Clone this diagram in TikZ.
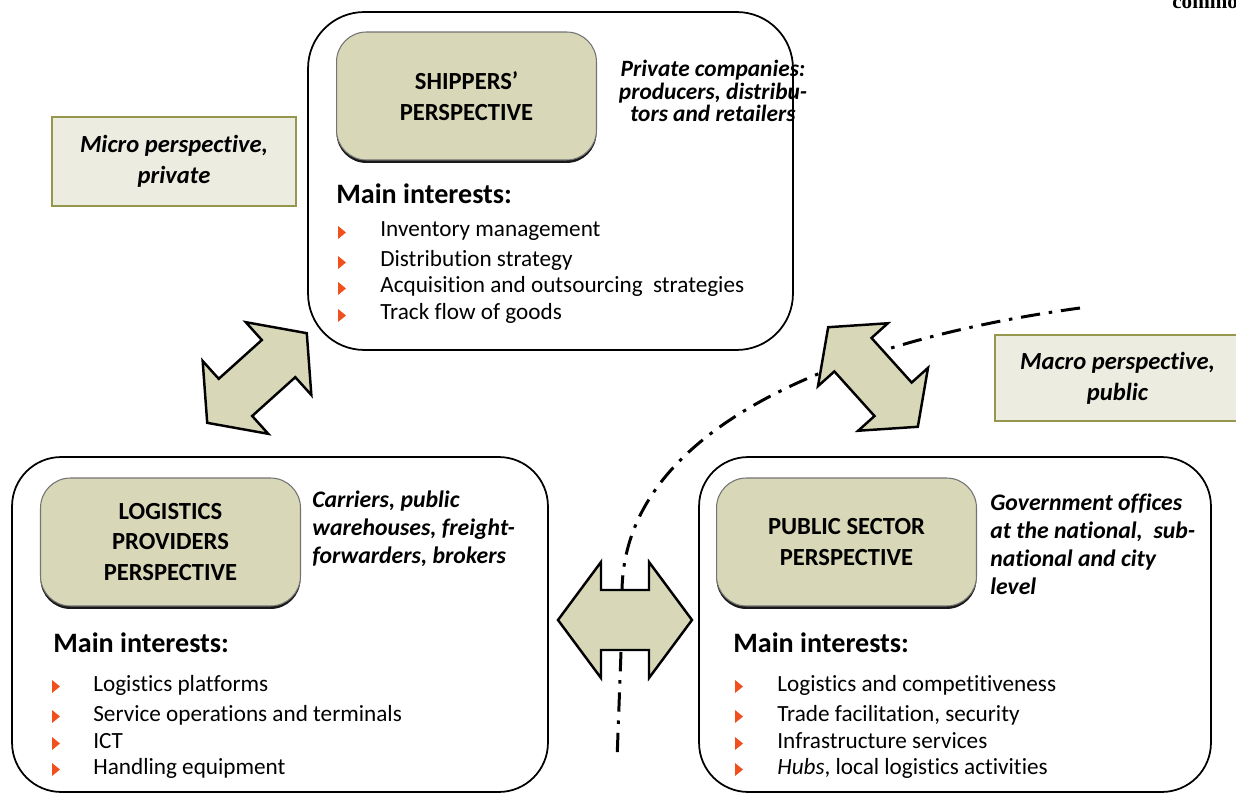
\documentclass[tikz,border=0pt]{standalone}
\usepackage{fontspec}
\setmainfont{Carlito}[Ligatures={NoCommon}]
\newfontfamily\capfont{Liberation Serif}
\usetikzlibrary{shadows}
\definecolor{tanfill}{RGB}{216,215,184}
\definecolor{notefill}{RGB}{236,236,225}
\definecolor{notedraw}{RGB}{150,150,78}
\definecolor{bulletred}{RGB}{240,80,30}
\begin{document}
\begin{tikzpicture}[x=0.02cm, y=-0.02cm,
    bigbox/.style={draw, line width=1pt, minimum height=6.7cm},
    persp/.style={draw=black!55, fill=tanfill, rounded corners=17pt, line width=0.6pt,
        minimum width=5.2cm, minimum height=2.56cm, align=center,
        drop shadow={shadow xshift=0pt, shadow yshift=-1.7pt, fill=black, opacity=0.9},
        font=\fontsize{14}{17.6}\selectfont\bfseries},
    desc/.style={inner sep=0pt, font=\fontsize{13.5}{15.9}\selectfont\bfseries\itshape},
    note/.style={draw=notedraw, fill=notefill, line width=1pt, align=center,
        font=\fontsize{14}{17.8}\selectfont\bfseries\itshape},
    mainint/.style={anchor=base west, inner sep=0pt, font=\fontsize{16}{18}\selectfont\bfseries},
    item/.style={anchor=base west, inner sep=0pt, font=\fontsize{13.2}{16}\selectfont},
    dblarrow/.style={draw=black, line width=1.4pt, fill=tanfill, line join=miter},
    border/.style={line width=1.7pt, dash pattern=on 11pt off 5pt on 2pt off 5pt}]
    \useasboundingbox (0,0) rectangle (1236,793);

    % Caption fragment at the top edge
    \node[anchor=base west, inner sep=0pt, font=\capfont\fontsize{12}{14}\selectfont\bfseries] (cap) at (1172,9) {common};

    % Micro / macro boundary
    \draw[border] (1080,308) .. controls (860,338) and (625,420) .. (622,590);
    \draw[border] (621,652) -- (617,760);

    % Shippers' perspective
    \node[bigbox, rounded corners=32pt, minimum width=9.7cm, minimum height=6.76cm] (shipbox) at (550.5,181) {};
    \node[persp] (shippers) at (466.5,96) {SHIPPERS'\\PERSPECTIVE};
    \node[desc, align=center, font=\fontsize{13.3}{12.6}\selectfont\bfseries\itshape] (shipdesc) at (713,91)
        {Private companies:\\producers, distribu-\\tors and retailers};
    \node[mainint] (shipmain) at (336,204) {Main interests:};
    \foreach \y/\t [count=\i] in {237/Inventory management, 267/Distribution strategy,
        293/{Acquisition and outsourcing\ \ strategies}, 320/Track flow of goods} {
        \fill[bulletred] (338,\y-11) -- (346,\y-4.5) -- (338,\y+2) -- cycle;
        \node[item] (shipitem\i) at (380,\y) {\t};
    }

    % Logistics providers perspective
    \node[bigbox, rounded corners=28pt, minimum width=10.72cm] (logbox) at (280,624.5) {};
    \node[persp] (logistics) at (170.5,542) {LOGISTICS\\PROVIDERS\\PERSPECTIVE};
    \node[desc, anchor=west, align=left] (logdesc) at (312,529)
        {Carriers, public\\warehouses, freight-\\forwarders, brokers};
    \node[mainint] (logmain) at (53,652) {Main interests:};
    \foreach \y/\t [count=\i] in {691/Logistics platforms, 721/Service operations and terminals,
        748/ICT, 774/Handling equipment} {
        \fill[bulletred] (52,\y-11) -- (60,\y-4.5) -- (52,\y+2) -- cycle;
        \node[item] (logitem\i) at (93,\y) {\t};
    }

    % Public sector perspective
    \node[bigbox, rounded corners=28pt, minimum width=10.24cm] (pubbox) at (955,624.5) {};
    \node[persp] (public) at (846.5,542) {PUBLIC SECTOR\\PERSPECTIVE};
    \node[desc, anchor=west, align=left] (pubdesc) at (990,544)
        {Government offices\\at the national,\ \ sub-\\national and city\\level};
    \node[mainint] (pubmain) at (733,652) {Main interests:};
    \foreach \y/\t [count=\i] in {691/Logistics and competitiveness, 721/{Trade facilitation, security},
        748/Infrastructure services, 774/{\textit{Hubs}, local logistics activities}} {
        \fill[bulletred] (735,\y-11) -- (743,\y-4.5) -- (735,\y+2) -- cycle;
        \node[item] (pubitem\i) at (777,\y) {\t};
    }

    % Micro and macro notes
    \node[note, minimum width=4.88cm, minimum height=1.78cm] (micro) at (174,161.5) {Micro perspective,\\private};
    \node[note, minimum width=4.9cm, minimum height=1.72cm] (macro) at (1117.5,378) {Macro perspective,\\public};

    % Double arrows between the perspectives
    \foreach \cx/\cy/\ang/\b/\w/\s in {257/378/42/29/49/25, 873/377/-48/30/47/25, 625/620/0/24/58/30} {
        \draw[dblarrow, shift={(\cx,\cy)}, rotate=\ang] (67,0) -- (\b,\w) -- (\b,\s) -- (-\b,\s) -- (-\b,\w)
            -- (-67,0) -- (-\b,-\w) -- (-\b,-\s) -- (\b,-\s) -- (\b,-\w) -- cycle;
    }
\end{tikzpicture}
\end{document}
